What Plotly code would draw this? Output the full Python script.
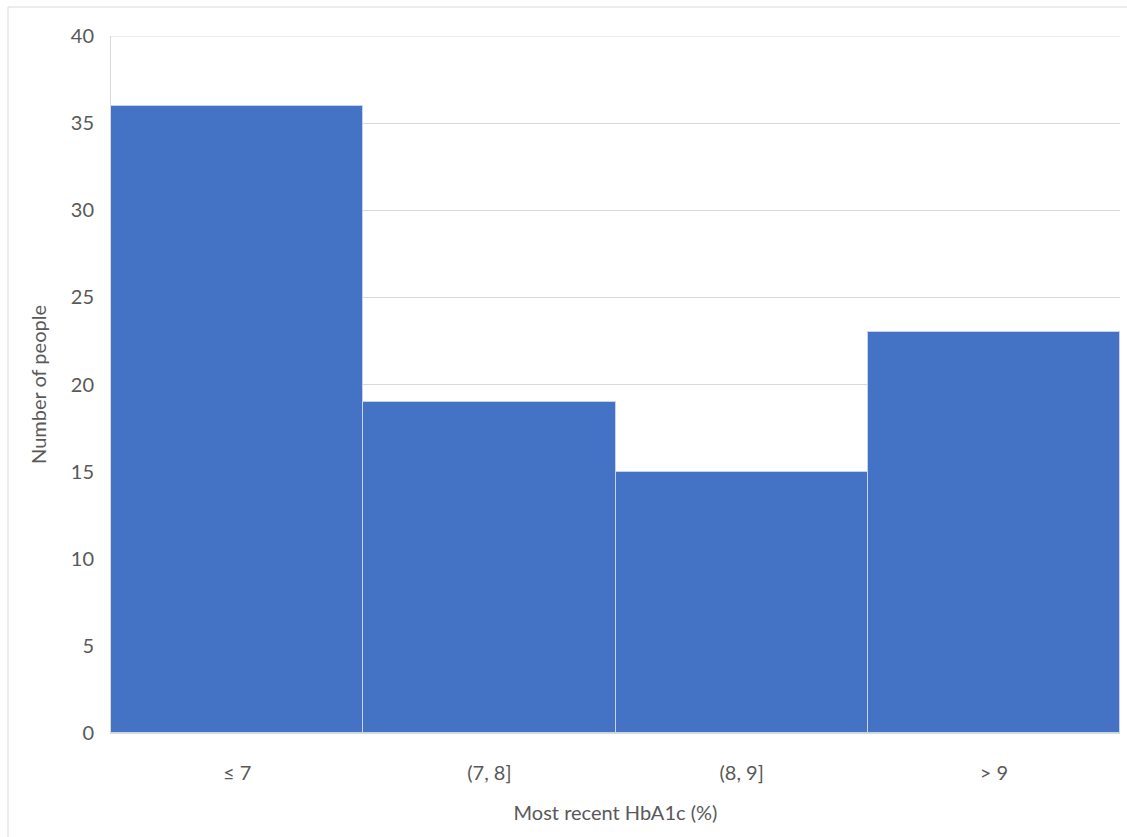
import plotly.graph_objects as go

categories = ["≤ 7", "(7, 8]", "(8, 9]", "> 9"]
counts = [36, 19, 15, 23]
y_ticks = [0, 5, 10, 15, 20, 25, 30, 35, 40]

fig = go.Figure(go.Bar(
    x=categories, y=counts,
    marker=dict(color="#4472C4", line=dict(color="#C5D3EC", width=1)),
))

W, H = 1127, 837
L, R, T, B = 111, 7, 36, 104
pw, ph = W - L - R, H - T - B
FS = 20

fig.update_layout(
    width=W, height=H,
    margin=dict(l=L, r=R, t=T, b=B, pad=0),
    plot_bgcolor="white", paper_bgcolor="white",
    bargap=0, showlegend=False,
    font=dict(family="Lato, Open Sans, sans-serif", color="#595959", size=FS),
    xaxis=dict(
        title=dict(text="Most recent HbA1c (%)", font=dict(size=FS, color="#595959"), standoff=22),
        showgrid=False, showline=True, linecolor="#D9D9D9", linewidth=1,
        ticks="outside", ticklen=22, tickcolor="rgba(0,0,0,0)",
        tickfont=dict(size=FS, color="#595959"),
    ),
    yaxis=dict(
        title=dict(text="Number of people", font=dict(size=FS, color="#595959"), standoff=18),
        range=[0, 40], tickvals=y_ticks,
        showgrid=True, gridcolor="#D9D9D9", gridwidth=1,
        showline=True, linecolor="#D9D9D9", linewidth=1,
        ticks="outside", ticklen=12, tickcolor="rgba(0,0,0,0)",
        tickfont=dict(size=FS, color="#595959"),
        zeroline=False,
    ),
    shapes=[
        dict(
            type="rect", xref="paper", yref="paper",
            x0=(8 - L) / pw, x1=(W + 5 - L) / pw,
            y0=-(H + 5 - T - ph) / ph, y1=1 + (T - 7) / ph,
            line=dict(color="#D9D9D9", width=1), fillcolor="rgba(0,0,0,0)", layer="below",
        ),
        dict(
            type="line", xref="paper", yref="y",
            x0=0, x1=1, y0=y_ticks[-1], y1=y_ticks[-1],
            line=dict(color="#D9D9D9", width=1), layer="below",
        ),
    ],
)

fig.write_html("out.html")
